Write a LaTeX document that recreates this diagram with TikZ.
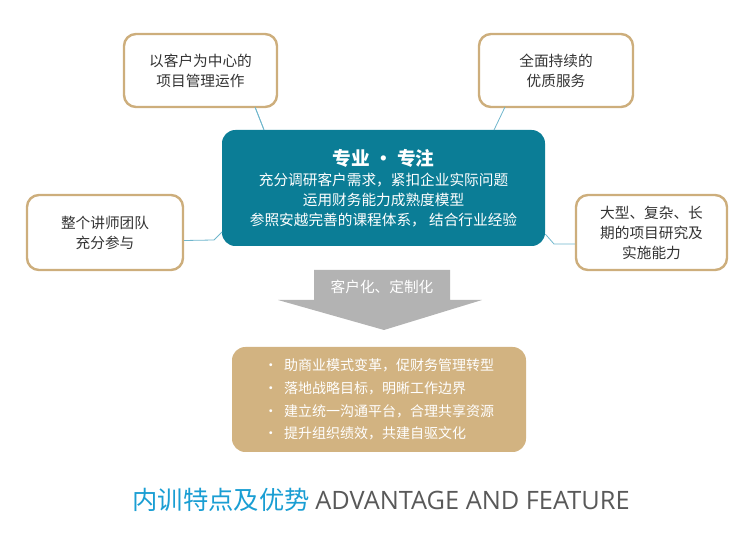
\documentclass[tikz,border=0pt]{standalone}
\usepackage{fontspec}
\setmainfont{Noto Sans CJK SC}
\newfontfamily\latinfont{Open Sans}
\usetikzlibrary{positioning}
\definecolor{tanline}{HTML}{CDAE7C}
\definecolor{tealfill}{HTML}{0B7D96}
\definecolor{tanfill}{HTML}{D2B381}
\definecolor{linkblue}{HTML}{6FB6CC}
\definecolor{titleblue}{HTML}{1A9ED3}
\definecolor{arrowgray}{HTML}{B3B3B3}
\begin{document}
\begin{tikzpicture}[x=0.75pt,y=-0.75pt]
% Define styles
\tikzset{side/.style={rounded corners=9pt, draw=tanline, line width=1.8pt, fill=white, align=center, font=\fontsize{11}{15}\selectfont, text=black!80},
  link/.style={draw=linkblue, line width=0.6pt}}
\useasboundingbox (0,0) rectangle (754,545);
% Define nodes
\node[side, minimum width=153*0.75pt, minimum height=73*0.75pt] (client) at (200.5,70.5) {以客户为中心的\\项目管理运作};
\node[side, minimum width=154*0.75pt, minimum height=73*0.75pt] (service) at (556,70.5) {全面持续的\\优质服务};
\node[side, minimum width=156*0.75pt, minimum height=75*0.75pt] (team) at (105,232.5) {整个讲师团队\\充分参与};
\node[side, minimum width=151*0.75pt, minimum height=75*0.75pt] (ability) at (651.5,232.5) {大型、复杂、长\\期的项目研究及\\实施能力};
\node[rounded corners=10pt, fill=tealfill, text=white, align=center, minimum width=323*0.75pt, minimum height=116*0.75pt, font=\fontsize{11}{15}\selectfont] (core) at (383.5,188) {{\fontsize{14}{18}\selectfont\bfseries 专业 • 专注}\\充分调研客户需求，紧扣企业实际问题\\运用财务能力成熟度模型\\参照安越完善的课程体系， 结合行业经验};
% Arrow
\fill[arrowgray] (314,270) -- (450,270) -- (450,300) -- (482,300) -- (384,330) -- (278,300) -- (314,300) -- cycle;
\node[text=white, font=\fontsize{11}{14}\selectfont] (custom) at (382,287) {客户化、定制化};
% Result box
\node[rounded corners=10pt, fill=tanfill, text=white, align=left, minimum width=294*0.75pt, minimum height=105*0.75pt, font=\fontsize{10.5}{17}\selectfont] (result) at (379,399.5) {• \ 助商业模式变革，促财务管理转型\\• \ 落地战略目标，明晰工作边界\\• \ 建立统一沟通平台，合理共享资源\\• \ 提升组织绩效，共建自驱文化};
% Title
\node[font=\fontsize{19}{22}\selectfont, inner sep=0pt] (title) at (381,500) {\textcolor{titleblue}{内训特点及优势} \textcolor{black!65}{\latinfont ADVANTAGE AND FEATURE}};
% Connect the nodes
\draw[link] (client.south) ++(55,0) coordinate (c1) -- (core.north west -| 264,0) ;
\draw[link] (255,107) -- (264,130);
\draw[link] (505,107) -- (494,130);
\draw[link] (team.east) ++(0,8) -- (214,240) -- (222,232);
\draw[link] (core.east) ++(0,46) -- (554,244) -- (ability.west |- 0,244);
\end{tikzpicture}
\end{document}
